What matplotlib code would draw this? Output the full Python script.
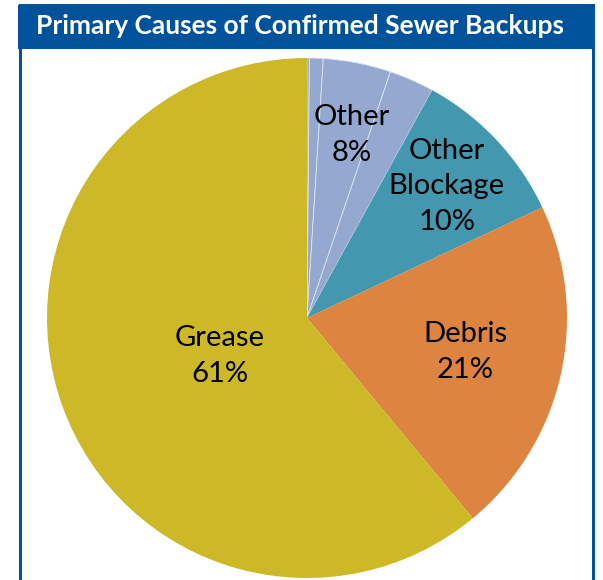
import matplotlib
matplotlib.use('Agg')
import matplotlib.pyplot as plt
from matplotlib.patches import Rectangle

# data: Other (8%) is drawn as four thin sub-slices in the original
labels = ['Other a', 'Other b', 'Other c', 'Other d', 'Other Blockage', 'Debris', 'Grease']
shares = [0.15, 0.85, 4.2, 2.8, 10, 21, 61]
colors = ['#95A8CF', '#95A8CF', '#95A8CF', '#95A8CF', '#4397AE', '#DC8440', '#CDB928']
text_labels = ['Other\n8%', 'Other\nBlockage\n10%', 'Debris\n21%', 'Grease\n61%']
text_pos = [(0.173, 0.703), (0.538, 0.507), (0.608, -0.131), (-0.335, -0.147)]

title = 'Primary Causes of Confirmed Sewer Backups'
blue = '#00539B'
font = 'Lato'

W, H = 603, 580
fig = plt.figure(figsize=(W/100, H/100), dpi=100)

# frame + title bar
fig.add_artist(Rectangle((19.5/W, -0.05), 573/W, 1.05 - 5/H, transform=fig.transFigure,
                         facecolor='none', edgecolor=blue, lw=2.2, clip_on=False))
fig.add_artist(Rectangle((18/W, (H-49)/H), 576/W, 44/H, transform=fig.transFigure,
                         facecolor=blue, edgecolor='none'))
fig.text(300/W, 1-26/H, title, color='white', fontsize=19, fontweight='bold',
         family=font, ha='center', va='center')

cx, cy, r = 307, 318, 260
ax = fig.add_axes([(cx-r)/W, (H-cy-r)/H, 2*r/W, 2*r/H])
wedges, _ = ax.pie(shares, colors=colors, startangle=90, counterclock=False,
                   wedgeprops={'linewidth': 0})
for w in wedges[:4]:
    w.set_edgecolor('#dfe5f1')
    w.set_linewidth(0.6)
ax.set_xlim(-1, 1)
ax.set_ylim(-1, 1)
ax.set_aspect('equal')
ax.axis('off')

for txt, (x, y) in zip(text_labels, text_pos):
    ax.text(x, y, txt, ha='center', va='center', fontsize=21, family=font,
            linespacing=1.45, color='black')

fig.savefig('out.png', dpi=100)
